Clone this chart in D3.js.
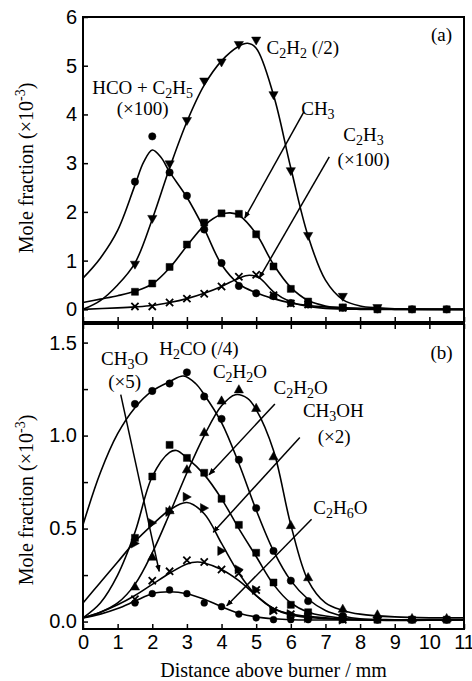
<!DOCTYPE html>
<html>
<head>
<meta charset="utf-8">
<script src="https://cdn.jsdelivr.net/npm/d3@7.9.0/dist/d3.min.js"></script>
<style>
  body { margin: 0; background: #fff; }
  svg { display: block; font-family: "Liberation Serif", "Times New Roman", serif; }
  .tick text { font-size: 20px; fill: #000; }
  .tick line { stroke: #000; stroke-width: 1.5; }
</style>
</head>
<body>
<svg id="chart" width="472" height="681"></svg>
<script>
// x ticks shared by both panels
const xTicks = d3.range(0, 12);

// ---- panel (a) : measured points and fitted curves, [mm, value]
const c2h2Pts = [[1.5, 0.91], [2, 1.85], [2.5, 2.97], [3, 3.86], [3.5, 4.67], [4, 5.06], [4.5, 5.42], [5, 5.51], [5.5, 4.39], [6, 2.83], [6.5, 1.5], [7.5, 0.25], [8.5, 0.02]];
const c2h2Fit = [[0, 0.0], [0.5, 0.18], [1, 0.5], [1.5, 0.95], [2, 1.85], [2.5, 2.9], [3, 3.85], [3.5, 4.6], [4, 5.1], [4.5, 5.4], [4.75, 5.46], [5, 5.36], [5.5, 4.4], [6, 2.9], [6.5, 1.5], [7, 0.6], [7.5, 0.2], [8, 0.07], [8.5, 0.03], [9, 0.01], [11, 0]];
const hcoPts = [[1.5, 2.62], [2, 3.55], [2.5, 2.81], [3, 2.33], [3.5, 1.64], [4, 0.95], [4.5, 0.48], [5, 0.33], [5.5, 0.27], [6, 0.13], [6.5, 0.1], [7.5, 0.03], [8.5, 0], [9.5, 0], [10.5, 0]];
const hcoFit = [[0, 0.64], [0.5, 1.05], [1, 1.62], [1.5, 2.55], [1.75, 3.02], [2, 3.27], [2.25, 3.12], [2.5, 2.82], [3, 2.3], [3.5, 1.65], [4, 0.92], [4.5, 0.52], [5, 0.34], [5.5, 0.22], [6, 0.13], [6.5, 0.08], [7, 0.05], [8, 0.02], [9, 0.01], [11, 0]];
const ch3Pts = [[1.5, 0.36], [2, 0.53], [2.5, 0.87], [3, 1.33], [3.5, 1.78], [4, 1.97], [4.5, 1.96], [5, 1.54], [5.5, 0.88], [6, 0.42], [6.5, 0.16], [7.5, 0.04], [8.5, 0], [9.5, 0], [10.5, 0]];
const ch3Fit = [[0, 0.14], [0.5, 0.21], [1, 0.28], [1.5, 0.37], [2, 0.52], [2.5, 0.85], [3, 1.3], [3.5, 1.72], [4, 1.95], [4.25, 1.98], [4.5, 1.93], [5, 1.55], [5.5, 0.92], [6, 0.45], [6.5, 0.18], [7, 0.07], [7.5, 0.03], [8, 0.01], [9, 0], [11, 0]];
const c2h3Pts = [[1.5, 0.06], [2, 0.06], [2.5, 0.14], [3, 0.22], [3.5, 0.32], [4, 0.47], [4.5, 0.67], [5, 0.71], [5.5, 0.29], [6, 0.12], [6.5, 0.1], [7.5, 0.03]];
const c2h3Fit = [[0, 0.0], [1, 0.03], [1.5, 0.05], [2, 0.08], [2.5, 0.14], [3, 0.22], [3.5, 0.33], [4, 0.47], [4.5, 0.64], [4.8, 0.7], [5.1, 0.64], [5.5, 0.36], [6, 0.15], [6.5, 0.06], [7, 0.02], [8, 0], [11, 0]];

// ---- panel (b)
const h2coPts = [[1.5, 1.17], [2, 1.24], [2.5, 1.28], [3, 1.34], [3.5, 1.21], [4, 1.09], [4.5, 0.87], [5, 0.61], [5.5, 0.38], [6, 0.22], [6.5, 0.11], [7.5, 0.03], [8.5, 0.01], [9.5, 0.01], [10.5, 0.01]];
const h2coFit = [[0, 0.52], [0.5, 0.8], [1, 1.01], [1.5, 1.15], [2, 1.24], [2.5, 1.29], [2.9, 1.32], [3.25, 1.28], [3.5, 1.22], [4, 1.07], [4.5, 0.85], [5, 0.6], [5.5, 0.38], [6, 0.22], [6.5, 0.12], [7, 0.06], [7.5, 0.03], [8, 0.015], [9, 0.01], [11, 0.01]];
const c2h2oPts = [[1.5, 0.19], [2, 0.35], [2.5, 0.6], [3, 0.82], [3.5, 1.02], [4, 1.19], [4.5, 1.25], [5, 1.15], [5.5, 0.89], [6, 0.52], [6.5, 0.24], [7.5, 0.07], [8.5, 0.04], [9.5, 0.02], [10.5, 0.02]];
const c2h2oFit = [[0, 0.02], [0.5, 0.05], [1, 0.1], [1.5, 0.2], [2, 0.37], [2.5, 0.58], [3, 0.8], [3.5, 1.0], [4, 1.16], [4.4, 1.22], [4.75, 1.2], [5, 1.14], [5.5, 0.92], [6, 0.52], [6.5, 0.22], [7, 0.1], [7.5, 0.06], [8, 0.04], [9, 0.025], [10, 0.02], [11, 0.02]];
const sqPts = [[1.5, 0.45], [2, 0.78], [2.5, 0.95], [3, 0.88], [3.5, 0.8], [4, 0.66], [4.5, 0.52], [5, 0.37], [5.5, 0.21], [6, 0.09], [6.5, 0.05], [7.5, 0.02], [8.5, 0.01], [9.5, 0.01], [10.5, 0.01]];
const sqFit = [[0, 0.02], [0.5, 0.1], [1, 0.25], [1.5, 0.48], [2, 0.78], [2.5, 0.91], [2.7, 0.92], [3, 0.88], [3.5, 0.79], [4, 0.66], [4.5, 0.5], [5, 0.35], [5.5, 0.2], [6, 0.1], [6.5, 0.05], [7, 0.03], [8, 0.01], [11, 0.01]];
const ch3ohPts = [[1.5, 0.42], [2, 0.53], [2.5, 0.59], [3, 0.67], [3.5, 0.61], [4, 0.38], [4.5, 0.28], [5, 0.17], [5.5, 0.06], [6, 0.04], [6.5, 0.02], [7.5, 0.01]];
const ch3ohFit = [[0, 0.1], [0.5, 0.21], [1, 0.32], [1.5, 0.43], [2, 0.52], [2.5, 0.6], [3, 0.64], [3.5, 0.58], [4, 0.42], [4.5, 0.26], [5, 0.14], [5.5, 0.07], [6, 0.04], [7, 0.02], [8, 0.01], [11, 0.01]];
const ch3oPts = [[1.5, 0.12], [2, 0.22], [2.5, 0.27], [3, 0.33], [3.5, 0.32], [4, 0.28], [4.5, 0.26], [5, 0.17], [5.5, 0.06], [6, 0.04], [6.5, 0.03], [7.5, 0.01]];
const ch3oFit = [[0, 0.02], [0.5, 0.05], [1, 0.09], [1.5, 0.14], [2, 0.2], [2.5, 0.26], [3, 0.31], [3.3, 0.32], [3.5, 0.315], [4, 0.28], [4.5, 0.22], [5, 0.14], [5.5, 0.07], [6, 0.035], [7, 0.015], [8, 0.01], [11, 0.01]];
const c2h6oPts = [[1.5, 0.1], [2, 0.15], [2.5, 0.17], [3, 0.15], [3.5, 0.1], [4, 0.08], [4.5, 0.04], [5, 0.02], [5.5, 0.01], [6, 0.01], [6.5, 0.01], [7.5, 0.01]];
const c2h6oFit = [[0, 0.02], [0.5, 0.04], [1, 0.07], [1.5, 0.11], [2, 0.15], [2.5, 0.16], [3, 0.15], [3.5, 0.12], [4, 0.08], [4.5, 0.045], [5, 0.025], [5.5, 0.015], [6, 0.01], [11, 0.01]];

// labels: text ("_" = subscript digit), x mm, y value (baseline), anchor
const labelsA = [
  ['(a)', 10.35, 5.5, 'middle'],
  ['C_2H_2 (/2)', 5.3, 5.25, 'start'],
  ['HCO + C_2H_5', 1.72, 4.42, 'middle'],
  ['(×100)', 1.72, 3.99, 'middle'],
  ['CH_3', 6.3, 3.98, 'start'],
  ['C_2H_3', 8.1, 3.45, 'middle'],
  ['(×100)', 8.1, 2.94, 'middle']
];
const labelsB = [
  ['(b)', 10.35, 1.41, 'middle'],
  ['CH_3O', 1.2, 1.38, 'middle'],
  ['(×5)', 1.2, 1.256, 'middle'],
  ['H_2CO (/4)', 2.2, 1.433, 'start'],
  ['C_2H_2O', 3.75, 1.31, 'start'],
  ['C_2H_2O', 5.5, 1.224, 'start'],
  ['CH_3OH', 6.35, 1.1, 'start'],
  ['(×2)', 7.25, 0.96, 'middle'],
  ['C_2H_6O', 6.65, 0.578, 'start']
];
// leader lines [x1, y1, x2, y2] in data units, arrow at second point
const leadersA = [[6.38, 4.06, 4.67, 1.87], [7.11, 3.13, 5.09, 0.64]];
const leadersB = [[1.09, 1.22, 2.2, 0.27], [5.54, 1.17, 3.64, 0.79], [6.26, 0.99, 3.76, 0.48], [6.6, 0.55, 4.15, 0.085]];

const svg = d3.select('#chart');
const x = d3.scaleLinear().domain([0, 11]).range([83, 464]);
const yA = d3.scaleLinear().domain([-0.26, 6]).range([322, 17]);
const yB = d3.scaleLinear().domain([-0.04, 1.6]).range([629, 324]);

svg.append('defs').append('marker')
  .attr('id', 'arrow')
  .attr('viewBox', '0 0 10 10')
  .attr('refX', 9).attr('refY', 5)
  .attr('markerWidth', 7).attr('markerHeight', 7)
  .attr('markerUnits', 'userSpaceOnUse')
  .attr('orient', 'auto')
  .append('path').attr('d', 'M0,1 L10,5 L0,9 Z').attr('fill', '#000');

const shapes = {
  circle: 'M3.7,0A3.7,3.7 0 1,1 -3.7,0A3.7,3.7 0 1,1 3.7,0Z',
  small: 'M3.4,0A3.4,3.4 0 1,1 -3.4,0A3.4,3.4 0 1,1 3.4,0Z',
  square: 'M-3.5,-3.5H3.5V3.5H-3.5Z',
  down: 'M-4.6,-3.8L4.6,-3.8L0,4.2Z',
  up: 'M-4.6,3.8L4.6,3.8L0,-4.4Z',
  right: 'M-3.8,-4.6L4.4,0L-3.8,4.6Z',
  cross: 'M-3.6,-3.6L3.6,3.6M-3.6,3.6L3.6,-3.6'
};

const line = (y) => d3.line()
  .x((d) => x(d[0]))
  .y((d) => y(d[1]))
  .curve(d3.curveCatmullRom.alpha(0.5));

function drawSeries(g, y, fit, pts, shape) {
  g.append('path')
    .datum(fit)
    .attr('d', line(y))
    .attr('fill', 'none')
    .attr('stroke', '#000')
    .attr('stroke-width', 1.6);
  g.selectAll(null)
    .data(pts)
    .join('path')
    .attr('transform', (d) => `translate(${x(d[0])},${y(d[1])})`)
    .attr('d', shapes[shape])
    .attr('fill', shape === 'cross' ? 'none' : '#000')
    .attr('stroke', '#000')
    .attr('stroke-width', shape === 'cross' ? 1.8 : 0.5);
}

function addLabel(g, y, [txt, lx, ly, anchor]) {
  const t = g.append('text')
    .attr('x', x(lx)).attr('y', y(ly))
    .attr('text-anchor', anchor)
    .attr('font-size', 19);
  // split on subscripts like "_2"; shift back up on the piece that follows
  let shift = 0;
  txt.split(/(_\d)/).filter((s) => s).forEach((s) => {
    if (s[0] === '_') {
      t.append('tspan').attr('font-size', 14).attr('dy', 4 - shift).text(s[1]);
      shift = 4;
    } else {
      t.append('tspan').attr('dy', -shift).text(s);
      shift = 0;
    }
  });
}

function addLeaders(g, y, leaders) {
  g.selectAll(null)
    .data(leaders)
    .join('line')
    .attr('x1', (d) => x(d[0])).attr('y1', (d) => y(d[1]))
    .attr('x2', (d) => x(d[2])).attr('y2', (d) => y(d[3]))
    .attr('stroke', '#000')
    .attr('stroke-width', 1.5)
    .attr('marker-end', 'url(#arrow)');
}

// ---------- panel (a)
const gA = svg.append('g');
gA.append('g')
  .attr('transform', `translate(0,${yA.range()[0]})`)
  .call(d3.axisBottom(x).tickValues(xTicks).tickSize(-5).tickFormat(''))
  .call((a) => a.select('.domain').remove());
gA.append('g')
  .attr('transform', `translate(${x(0)},0)`)
  .call(d3.axisLeft(yA).tickValues(d3.range(0, 7)).tickSize(-5).tickPadding(6).tickFormat(d3.format('d')))
  .call((a) => a.select('.domain').remove());

drawSeries(gA, yA, hcoFit, hcoPts, 'circle');
drawSeries(gA, yA, c2h2Fit, c2h2Pts, 'down');
drawSeries(gA, yA, ch3Fit, ch3Pts, 'square');
drawSeries(gA, yA, c2h3Fit, c2h3Pts, 'cross');
addLeaders(gA, yA, leadersA);
labelsA.forEach((l) => addLabel(gA, yA, l));

gA.append('rect')
  .attr('x', x(0)).attr('y', yA.range()[1])
  .attr('width', x(11) - x(0)).attr('height', yA.range()[0] - yA.range()[1])
  .attr('fill', 'none').attr('stroke', '#000').attr('stroke-width', 2);

// ---------- panel (b)
const gB = svg.append('g');
gB.append('g')
  .attr('transform', `translate(0,${yB.range()[0]})`)
  .call(d3.axisBottom(x).tickValues(xTicks).tickSize(-5).tickPadding(6).tickFormat(d3.format('d')))
  .call((a) => a.select('.domain').remove());
gB.append('g')
  .attr('transform', `translate(0,${yB.range()[1]})`)
  .call(d3.axisTop(x).tickValues(xTicks).tickSize(-5).tickFormat(''))
  .call((a) => a.select('.domain').remove());
gB.append('g')
  .attr('transform', `translate(${x(0)},0)`)
  .call(d3.axisLeft(yB).tickValues(d3.range(0, 1.51, 0.25)).tickSize(-5).tickPadding(6)
    .tickFormat((d) => (Math.round(d * 100) % 50 === 0 ? d3.format('.1f')(d) : '')))
  .call((a) => a.select('.domain').remove());

drawSeries(gB, yB, h2coFit, h2coPts, 'circle');
drawSeries(gB, yB, c2h2oFit, c2h2oPts, 'up');
drawSeries(gB, yB, sqFit, sqPts, 'square');
drawSeries(gB, yB, ch3ohFit, ch3ohPts, 'right');
drawSeries(gB, yB, ch3oFit, ch3oPts, 'cross');
drawSeries(gB, yB, c2h6oFit, c2h6oPts, 'small');
addLeaders(gB, yB, leadersB);
labelsB.forEach((l) => addLabel(gB, yB, l));

gB.append('rect')
  .attr('x', x(0)).attr('y', yB.range()[1])
  .attr('width', x(11) - x(0)).attr('height', yB.range()[0] - yB.range()[1])
  .attr('fill', 'none').attr('stroke', '#000').attr('stroke-width', 2);

// ---------- axis titles
function yTitle(cy) {
  const t = svg.append('text')
    .attr('transform', `translate(33,${cy}) rotate(-90)`)
    .attr('text-anchor', 'middle')
    .attr('font-size', 20);
  t.append('tspan').text('Mole fraction (×10');
  t.append('tspan').attr('font-size', 14).attr('dy', -8).text('-3');
  t.append('tspan').attr('dy', 8).text(')');
}
yTitle(168);
yTitle(500);

svg.append('text')
  .attr('x', (x(0) + x(11)) / 2).attr('y', 677)
  .attr('text-anchor', 'middle')
  .attr('font-size', 20)
  .text('Distance above burner / mm');
</script>
</body>
</html>
